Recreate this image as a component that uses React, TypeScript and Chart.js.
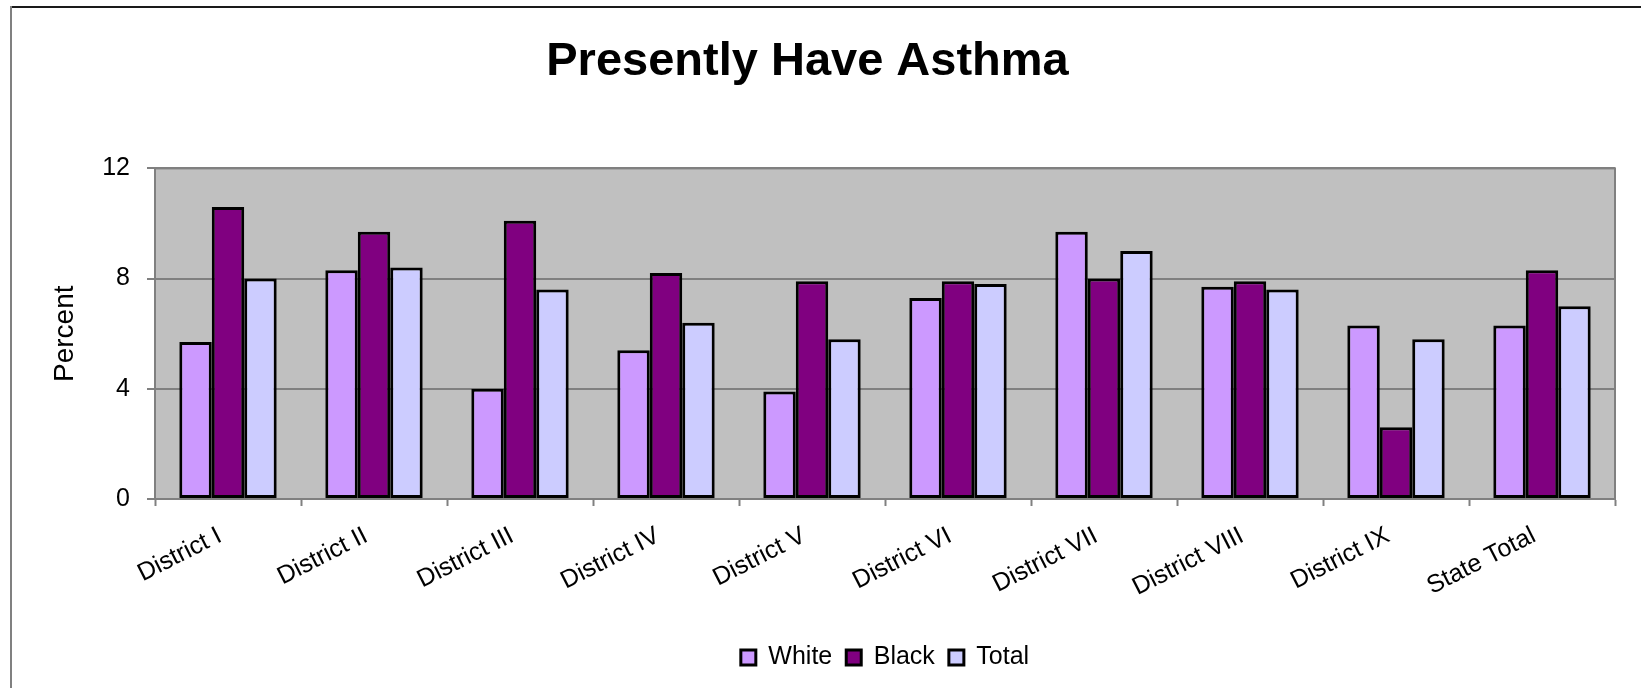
import React, { useEffect, useRef } from "react";
import { Chart, registerables } from "chart.js";

Chart.register(...registerables);

const titleText = "Presently Have Asthma";
const yAxisTitle = "Percent";
const categories = [
  "District I",
  "District II",
  "District III",
  "District IV",
  "District V",
  "District VI",
  "District VII",
  "District VIII",
  "District IX",
  "State Total",
];
const seriesNames = ["White", "Black", "Total"];
const whiteValues = [5.7, 8.3, 4.0, 5.4, 3.9, 7.3, 9.7, 7.7, 6.3, 6.3];
const blackValues = [10.6, 9.7, 10.1, 8.2, 7.9, 7.9, 8.0, 7.9, 2.6, 8.3];
const totalValues = [8.0, 8.4, 7.6, 6.4, 5.8, 7.8, 9.0, 7.6, 5.8, 7.0];
const yMin = 0;
const yMax = 12;
const yStep = 4;

const W = 1641;
const H = 688;
const FONT = "'Liberation Sans', Arial, Helvetica, sans-serif";

const framePlugin = {
  id: "framePlugin",
  beforeDraw(chart: any) {
    const { ctx, chartArea: a } = chart;
    ctx.save();
    ctx.fillStyle = "#ffffff";
    ctx.fillRect(0, 0, chart.width, chart.height);
    // outer chart border (top and left visible)
    ctx.lineWidth = 2;
    ctx.strokeStyle = "#1a1a1a";
    ctx.beginPath();
    ctx.moveTo(10, 7);
    ctx.lineTo(chart.width, 7);
    ctx.stroke();
    ctx.strokeStyle = "#808080";
    ctx.beginPath();
    ctx.moveTo(11, 6);
    ctx.lineTo(11, chart.height);
    ctx.stroke();
    // plot area fill
    ctx.fillStyle = "#C0C0C0";
    ctx.fillRect(a.left, a.top, a.right - a.left, a.bottom - a.top);
    ctx.restore();
  },
  beforeDatasetsDraw(chart: any) {
    const { ctx, chartArea: a } = chart;
    ctx.save();
    ctx.strokeStyle = "#808080";
    ctx.lineWidth = 2;
    ctx.strokeRect(a.left, a.top, a.right - a.left, a.bottom - a.top);
    ctx.restore();
  },
};

export default function App() {
  const canvasRef = useRef<HTMLCanvasElement | null>(null);

  useEffect(() => {
    const canvas = canvasRef.current;
    if (!canvas) return;
    const chart = new Chart(canvas, {
      type: "bar",
      data: {
        labels: categories,
        datasets: [
          {
            label: seriesNames[0],
            data: whiteValues,
            backgroundColor: "#CC99FF",
            borderColor: "#000000",
            borderWidth: 3,
            borderSkipped: false,
          },
          {
            label: seriesNames[1],
            data: blackValues,
            backgroundColor: "#800080",
            borderColor: "#000000",
            borderWidth: 3,
            borderSkipped: false,
          },
          {
            label: seriesNames[2],
            data: totalValues,
            backgroundColor: "#CCCCFF",
            borderColor: "#000000",
            borderWidth: 3,
            borderSkipped: false,
          },
        ],
      },
      options: {
        responsive: false,
        animation: false,
        devicePixelRatio: 1,
        datasets: {
          bar: {
            categoryPercentage: 0.667,
            barPercentage: 1.0,
          },
        },
        layout: {
          padding: { left: 0, right: 26, top: 0, bottom: 8 },
        },
        plugins: {
          title: {
            display: true,
            text: titleText,
            color: "#000000",
            font: { family: FONT, size: 47, weight: "bold", lineHeight: 1.2 },
            padding: { top: 34, bottom: 78 },
          },
          legend: {
            display: true,
            position: "bottom",
            fullSize: false,
            labels: {
              color: "#000000",
              font: { family: FONT, size: 25 },
              boxWidth: 15,
              boxHeight: 15,
              padding: 14,
            },
          },
          tooltip: { enabled: false },
        },
        scales: {
          x: {
            offset: true,
            grid: {
              display: true,
              offset: true,
              drawOnChartArea: false,
              drawTicks: true,
              tickLength: 7,
              tickColor: "#808080",
              tickWidth: 2,
              color: "#808080",
            },
            border: { display: true, color: "#808080", width: 2 },
            ticks: {
              color: "#000000",
              font: { family: FONT, size: 25 },
              minRotation: 27,
              maxRotation: 27,
              autoSkip: false,
              padding: 15,
              labelOffset: -8,
            },
            afterFit(scale: any) {
              scale.height = 132;
            },
          },
          y: {
            min: yMin,
            max: yMax,
            ticks: {
              stepSize: yStep,
              color: "#000000",
              font: { family: FONT, size: 25 },
              padding: 17,
            },
            grid: {
              display: true,
              color: "#808080",
              lineWidth: 2,
              drawTicks: true,
              tickLength: 8,
              tickColor: "#808080",
              tickWidth: 2,
            },
            border: { display: true, color: "#808080", width: 2 },
            title: {
              display: true,
              text: yAxisTitle,
              color: "#000000",
              font: { family: FONT, size: 28, lineHeight: 1.2 },
              padding: { top: 48, bottom: 0 },
            },
            afterFit(scale: any) {
              scale.width = 155;
            },
          },
        },
      },
      plugins: [framePlugin],
    });
    return () => chart.destroy();
  }, []);

  return (
    <div style={{ position: "absolute", left: 0, top: 0, width: W, height: H, background: "#fff" }}>
      <canvas ref={canvasRef} width={W} height={H} style={{ display: "block", width: W, height: H }} />
    </div>
  );
}
